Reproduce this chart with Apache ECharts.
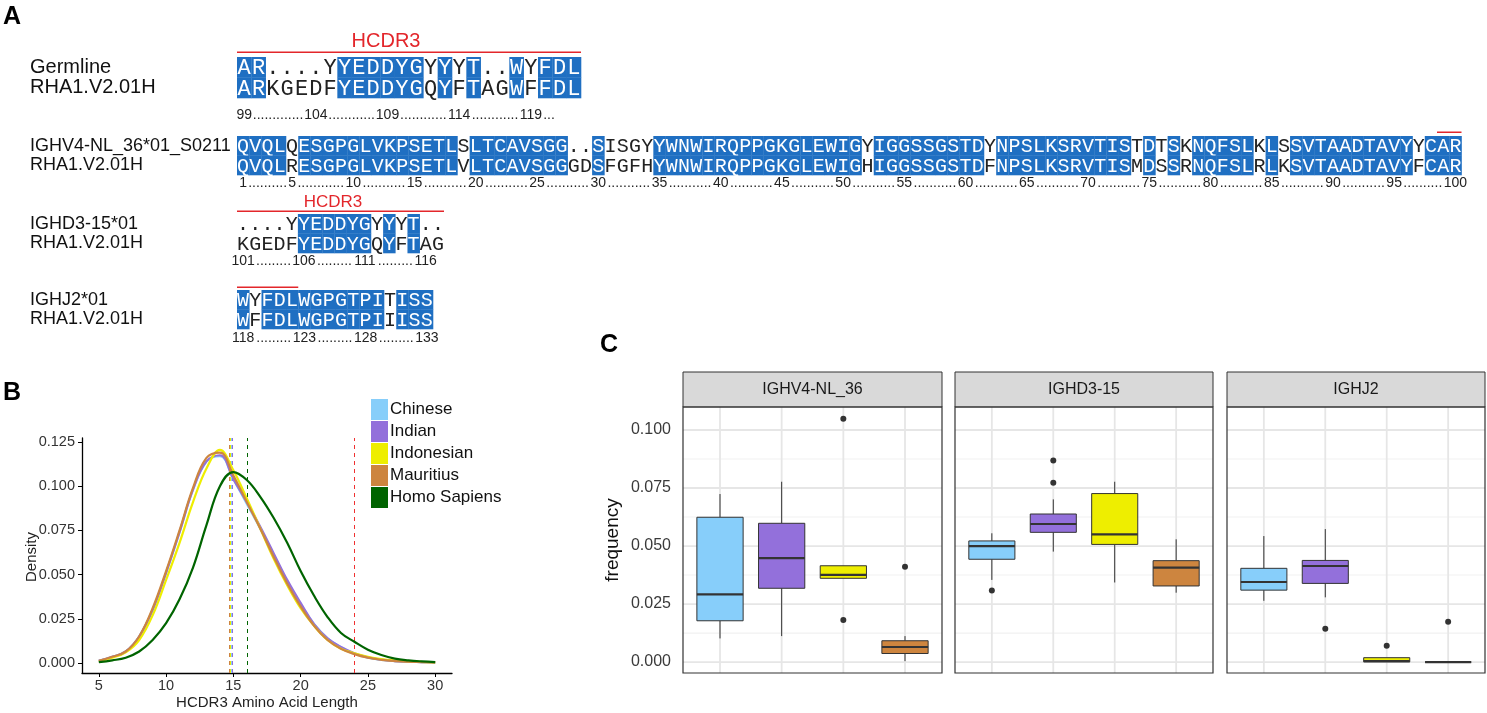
<!DOCTYPE html>
<html><head><meta charset="utf-8">
<script src="https://cdn.jsdelivr.net/npm/echarts@6/dist/echarts.min.js"></script>
<style>html,body{margin:0;padding:0;background:#fff}#c{width:1487px;height:713px}</style>
</head><body><div id="c"></div>
<script>
// ================= DATA =================
// Panel A : alignments
const rhaName = 'RHA1.V2.01H';
const cdr3Names = ['Germline', rhaName];
const vNames = ['IGHV4-NL_36*01_S0211', rhaName];
const dNames = ['IGHD3-15*01', rhaName];
const jNames = ['IGHJ2*01', rhaName];
const cdrLabel = 'HCDR3';

const cdr3Germline = 'AR....YYEDDYGYYYT..WYFDL';
const cdr3Rha      = 'ARKGEDFYEDDYGQYFTAGWFFDL';
const cdr3Numbers  = [99, 104, 109, 114, 119];
const cdr3Start    = 99;

const vGermline = 'QVQLQESGPGLVKPSETLSLTCAVSGG..SISGYYWNWIRQPPGKGLEWIGYIGGSSGSTDYNPSLKSRVTISTDTSKNQFSLKLSSVTAADTAVYYCAR';
const vRha      = 'QVQLRESGPGLVKPSETLVLTCAVSGGGDSFGFHYWNWIRQPPGKGLEWIGHIGGSSGSTDFNPSLKSRVTISMDSSRNQFSLRLKSVTAADTAVYFCAR';
const vNumbers  = [1, 5, 10, 15, 20, 25, 30, 35, 40, 45, 50, 55, 60, 65, 70, 75, 80, 85, 90, 95, 100];
const vStart    = 1;

const dGermline = '....YYEDDYGYYYT..';
const dRha      = 'KGEDFYEDDYGQYFTAG';
const dNumbers  = [101, 106, 111, 116];
const dStart    = 101;

const jGermline = 'WYFDLWGPGTPITISS';
const jRha      = 'WFFDLWGPGTPIIISS';
const jNumbers  = [118, 123, 128, 133];
const jStart    = 118;

// HCDR3 red bars (residue index ranges)
const cdr3Bar = [0, 24];
const vBar = [98, 100];
const dBar = [0, 17];
const jBar = [0, 5];

// Panel B : HCDR3 length densities
const populations = ['Chinese', 'Indian', 'Indonesian', 'Mauritius', 'Homo Sapiens'];
const lengthX = [5, 6, 7, 8, 9, 10, 11, 12, 13, 14, 15, 16, 17, 18, 19, 20, 21, 22, 23, 24, 25, 26, 27, 28, 29, 30];
const densChinese    = [0.0012, 0.0035, 0.0065, 0.015, 0.030, 0.051, 0.074, 0.098, 0.114, 0.117, 0.104, 0.090, 0.076, 0.061, 0.046, 0.033, 0.022, 0.014, 0.009, 0.0052, 0.0030, 0.0018, 0.0011, 0.0007, 0.0005, 0.0003];
const densIndian     = [0.0012, 0.0035, 0.0065, 0.015, 0.030, 0.051, 0.074, 0.098, 0.114, 0.1175, 0.104, 0.091, 0.077, 0.062, 0.047, 0.034, 0.022, 0.014, 0.009, 0.0055, 0.0032, 0.0019, 0.0011, 0.0007, 0.0005, 0.0003];
const densIndonesian = [0.0010, 0.0030, 0.0060, 0.013, 0.027, 0.047, 0.068, 0.091, 0.110, 0.1205, 0.109, 0.093, 0.076, 0.059, 0.044, 0.031, 0.021, 0.013, 0.008, 0.0055, 0.0035, 0.0022, 0.0014, 0.0009, 0.0006, 0.0004];
const densMauritius  = [0.0012, 0.0035, 0.0065, 0.015, 0.031, 0.052, 0.075, 0.099, 0.116, 0.119, 0.106, 0.091, 0.076, 0.060, 0.045, 0.032, 0.021, 0.013, 0.008, 0.0050, 0.0030, 0.0018, 0.0011, 0.0007, 0.0005, 0.0003];
const densHomo       = [0.0005, 0.0015, 0.0030, 0.0065, 0.013, 0.0225, 0.036, 0.054, 0.078, 0.100, 0.108, 0.1035, 0.094, 0.082, 0.068, 0.052, 0.038, 0.026, 0.017, 0.012, 0.0075, 0.0045, 0.0025, 0.0015, 0.0009, 0.0005];
const meanLength = [14.85, 14.9, 14.8, 14.72, 16.05];
const rhaCdr3Length = 24;
const lenTicks = [5, 10, 15, 20, 25, 30];
const densTicks = [0, 0.025, 0.05, 0.075, 0.1, 0.125];

// Panel C : gene usage frequency boxplots  [low, q1, median, q3, high]
const genes = ['IGHV4-NL_36', 'IGHD3-15', 'IGHJ2'];
const cohorts = ['Chinese', 'Indian', 'Indonesian', 'Mauritius'];
const boxIGHV = [[0.0102, 0.0178, 0.0292, 0.0624, 0.0724], [0.0112, 0.0318, 0.0448, 0.0598, 0.0777], [0.0361, 0.0361, 0.0376, 0.0415, 0.0415], [0.0004, 0.0037, 0.0065, 0.0092, 0.0112]];
const boxIGHD = [[0.0354, 0.0443, 0.0500, 0.0522, 0.0555], [0.0476, 0.0559, 0.0595, 0.0638, 0.0701], [0.0343, 0.0507, 0.0550, 0.0726, 0.0777], [0.0299, 0.0328, 0.0407, 0.0437, 0.0529]];
const boxIGHJ = [[0.0264, 0.0310, 0.0345, 0.0404, 0.0543], [0.0279, 0.0339, 0.0414, 0.0438, 0.0573], [0.0, 0.0001, 0.0004, 0.0019, 0.0019], [0.0, 0.0, 0.0, 0.0, 0.0]];
const outIGHV = [[3, 0.1048], [3, 0.0181], [4, 0.0411]];
const outIGHD = [[1, 0.0308], [2, 0.0868], [2, 0.0773]];
const outIGHJ = [[2, 0.0144], [3, 0.0070], [4, 0.0174]];
const freqTicks = [0, 0.025, 0.05, 0.075, 0.1];
const freqMinor = [0.0125, 0.0375, 0.0625, 0.0875];

// ================= STYLE =================
const SANS = '"Liberation Sans", Arial, sans-serif';
const MONO = '"Liberation Mono", "DejaVu Sans Mono", monospace';
const BLUE = '#1f6fc2';
const RED = '#e3262b';
const popColors = ['#87CEFA', '#9370DB', '#EEEE00', '#CD853F', '#006400'];

// grid layout: 0 cdr3, 1 V, 2 D, 3 J, 4 density, 5-7 facets
const grids = [
  {left: 237, top: 57, width: 344, height: 41},
  {left: 237, top: 136, width: 1224.5, height: 39},
  {left: 237, top: 214, width: 207, height: 39},
  {left: 237, top: 290, width: 196, height: 39},
  {left: 82, top: 438, width: 370, height: 235},
  {left: 683, top: 407, width: 259, height: 266},
  {left: 955, top: 407, width: 258, height: 266},
  {left: 1227, top: 407, width: 258, height: 266}
];

const blocks = [
  {g: 0, a: cdr3Germline, b: cdr3Rha, nums: cdr3Numbers, start: cdr3Start, trailing: true, font: '22px ' + MONO, numOff: 17, bar: cdr3Bar, barOff: 4, names: cdr3Names, nameFont: 20},
  {g: 1, a: vGermline, b: vRha, nums: vNumbers, start: vStart, trailing: false, font: '20px ' + MONO, numOff: 8, bar: vBar, barOff: 3, names: vNames, nameFont: 18},
  {g: 2, a: dGermline, b: dRha, nums: dNumbers, start: dStart, trailing: false, font: '20px ' + MONO, numOff: 8, bar: dBar, barOff: 2, names: dNames, nameFont: 18},
  {g: 3, a: jGermline, b: jRha, nums: jNumbers, start: jStart, trailing: false, font: '20px ' + MONO, numOff: 9, bar: jBar, barOff: 2, names: jNames, nameFont: 18}
];

const xAxes = [], yAxes = [], series = [];
blocks.forEach(bk => {
  xAxes.push({gridIndex: bk.g, type: 'value', min: 0, max: bk.a.length, show: false});
  yAxes.push({gridIndex: bk.g, type: 'value', min: 0, max: 2, inverse: true, show: false});
});
// density axes
xAxes.push({gridIndex: 4, type: 'value', min: 3.75, max: 31.25,
  axisLine: {onZero: false, lineStyle: {color: '#000', width: 1.3}},
  axisTick: {customValues: lenTicks, length: 4, lineStyle: {color: '#000', width: 1}},
  axisLabel: {customValues: lenTicks, margin: 5, fontSize: 14.5, color: '#333', fontFamily: SANS},
  splitLine: {show: false}});
yAxes.push({gridIndex: 4, type: 'value', min: -0.00566, max: 0.12726,
  axisLine: {show: true, onZero: false, lineStyle: {color: '#000', width: 1.3}},
  axisTick: {show: true, customValues: densTicks, length: 4, lineStyle: {color: '#000', width: 1}},
  axisLabel: {customValues: densTicks, margin: 7, fontSize: 14.5, color: '#333', fontFamily: SANS, formatter: v => v.toFixed(3)},
  splitLine: {show: false}});
// facet axes
for (let f = 0; f < 3; f++) {
  xAxes.push({gridIndex: 5 + f, type: 'value', min: 0.4, max: 4.6, show: false});
  yAxes.push({gridIndex: 5 + f, type: 'value', min: -0.0047, max: 0.1099,
    axisLine: {show: false}, axisTick: {show: false}, splitLine: {show: false},
    axisLabel: {show: f === 0, customValues: freqTicks, margin: 12, fontSize: 16, color: '#3a3a3a', fontFamily: SANS, formatter: v => v.toFixed(3)}});
}

// ---- Panel A series ----
blocks.forEach(bk => {
  const data = [];
  for (let r = 0; r < 2; r++) for (let i = 0; i < bk.a.length; i++) data.push([i, r]);
  series.push({
    type: 'custom', xAxisIndex: bk.g, yAxisIndex: bk.g, data, silent: true, z: 3,
    encode: {x: 0, y: 1},
    renderItem(p, api) {
      const i = api.value(0), r = api.value(1);
      const ch = (r === 0 ? bk.a : bk.b)[i];
      const blue = bk.a[i] === bk.b[i] && bk.a[i] !== '.';
      const p0 = api.coord([i, r]), p1 = api.coord([i + 1, r + 1]);
      const kids = [];
      if (blue) kids.push({type: 'rect', shape: {x: p0[0], y: p0[1], width: p1[0] - p0[0] + 0.3, height: p1[1] - p0[1] + 0.3}, style: {fill: BLUE}});
      kids.push({type: 'text', x: (p0[0] + p1[0]) / 2, y: (p0[1] + p1[1]) / 2 + 1,
        style: {text: ch, font: bk.font, fill: blue ? '#ffffff' : '#222', align: 'center', verticalAlign: 'middle'}});
      return {type: 'group', children: kids};
    }
  });
  // number row
  series.push({
    type: 'custom', xAxisIndex: bk.g, yAxisIndex: bk.g, data: [[0, 0]], silent: true, z: 3,
    renderItem(p, api) {
      const fs = 14, dw = fs * 0.278, gw = fs * 0.556;
      const yy = api.coord([0, 2])[1] + bk.numOff;
      const font = fs + 'px ' + SANS;
      const items = bk.nums.map(v => {
        const cx = api.coord([v - bk.start + 0.5, 2])[0];
        const w = String(v).length * gw;
        return {v, cx, l: cx - w / 2, r: cx + w / 2};
      });
      const kids = [];
      items.forEach(it => kids.push({type: 'text', x: it.cx, y: yy, style: {text: String(it.v), font, fill: '#222', align: 'center', verticalAlign: 'middle'}}));
      const dots = (a, b) => {
        const cnt = Math.floor((b - a) / dw);
        if (cnt > 0) kids.push({type: 'text', x: (a + b) / 2, y: yy, style: {text: '.'.repeat(cnt), font, fill: '#222', align: 'center', verticalAlign: 'middle'}});
      };
      for (let k = 0; k < items.length - 1; k++) dots(items[k].r + 0.5, items[k + 1].l - 0.5);
      if (bk.trailing) dots(items[items.length - 1].r + 0.5, api.coord([bk.a.length, 2])[0] - 26);
      return {type: 'group', children: kids};
    }
  });
  // red HCDR3 bar
  series.push({
    type: 'custom', xAxisIndex: bk.g, yAxisIndex: bk.g, data: [bk.bar], silent: true, z: 3,
    renderItem(p, api) {
      const a = api.coord([api.value(0), 0]), b = api.coord([api.value(1), 0]);
      return {type: 'rect', shape: {x: a[0], y: a[1] - bk.barOff - 1.5, width: b[0] - a[0], height: 1.5}, style: {fill: RED}};
    }
  });
});

// ---- Panel B series ----
const densSets = [densChinese, densIndian, densIndonesian, densMauritius, densHomo];
populations.forEach((name, k) => {
  const ml = [{xAxis: meanLength[k], lineStyle: {color: popColors[k]}}];
  if (k === populations.length - 1) ml.push({xAxis: rhaCdr3Length, lineStyle: {color: '#f03030'}});
  series.push({
    name, type: 'line', xAxisIndex: 4, yAxisIndex: 4, smooth: 0.4, symbol: 'none', z: 3 + k,
    data: lengthX.map((x, i) => [x, densSets[k][i]]),
    lineStyle: {color: popColors[k], width: 2.2}, itemStyle: {color: popColors[k]},
    markLine: {silent: true, symbol: ['none', 'none'], label: {show: false},
      lineStyle: {type: [4, 4], width: 1}, data: ml}
  });
});

// ---- Panel C series ----
const boxSets = [boxIGHV, boxIGHD, boxIGHJ];
const outSets = [outIGHV, outIGHD, outIGHJ];
for (let f = 0; f < 3; f++) {
  const g = 5 + f;
  const gl = [];
  freqTicks.forEach(v => gl.push([0, v]));
  freqMinor.forEach(v => gl.push([1, v]));
  cohorts.forEach((c, i) => gl.push([2, i + 1]));
  series.push({
    type: 'custom', xAxisIndex: g, yAxisIndex: g, data: gl, silent: true, z: 1,
    renderItem(p, api) {
      const kind = api.value(0), v = api.value(1);
      let a, b;
      if (kind === 2) { a = api.coord([v, -0.0047]); b = api.coord([v, 0.1099]); }
      else { a = api.coord([0.4, v]); b = api.coord([4.6, v]); }
      return {type: 'line', shape: {x1: a[0], y1: a[1], x2: b[0], y2: b[1]},
        style: {stroke: kind === 1 ? '#f1f1f1' : '#e6e6e6', lineWidth: kind === 1 ? 1.1 : 1.8}};
    }
  });
  series.push({
    type: 'custom', xAxisIndex: g, yAxisIndex: g, silent: true, z: 3,
    data: boxSets[f].map((s, i) => [i + 1].concat(s)),
    renderItem(p, api) {
      const x = api.value(0), lo = api.value(1), q1 = api.value(2), med = api.value(3), q3 = api.value(4), hi = api.value(5);
      const hw = 0.375;
      const tl = api.coord([x - hw, q3]), br = api.coord([x + hw, q1]);
      const cHi = api.coord([x, hi]), cQ3 = api.coord([x, q3]), cQ1 = api.coord([x, q1]), cLo = api.coord([x, lo]);
      const m = api.coord([x, med]);
      const col = popColors[x - 1];
      return {type: 'group', children: [
        {type: 'line', shape: {x1: cHi[0], y1: cHi[1], x2: cQ3[0], y2: cQ3[1]}, style: {stroke: '#333', lineWidth: 1}},
        {type: 'line', shape: {x1: cQ1[0], y1: cQ1[1], x2: cLo[0], y2: cLo[1]}, style: {stroke: '#333', lineWidth: 1}},
        {type: 'rect', shape: {x: tl[0], y: tl[1], width: br[0] - tl[0], height: br[1] - tl[1]}, style: {fill: col, stroke: '#333', lineWidth: 1}},
        {type: 'line', shape: {x1: tl[0], y1: m[1], x2: br[0], y2: m[1]}, style: {stroke: '#333', lineWidth: 2.2}}
      ]};
    }
  });
  series.push({
    type: 'scatter', xAxisIndex: g, yAxisIndex: g, silent: true, z: 4,
    data: outSets[f], symbolSize: 6, itemStyle: {color: '#333', opacity: 1}
  });
}

// ---- graphic: labels, strips, borders ----
const G = [];
const txt = (x, y, text, font, fill, align, rot) => G.push({type: 'text', x, y, rotation: rot || 0, z: 50,
  style: {text, font, fill: fill || '#000', align: align || 'left', verticalAlign: 'middle'}});
txt(3, 17, 'A', 'bold 25px ' + SANS);
txt(3, 393, 'B', 'bold 25px ' + SANS);
txt(600, 345, 'C', 'bold 25px ' + SANS);
blocks.forEach(bk => {
  const gr = grids[bk.g];
  txt(30, gr.top + gr.height / 4, bk.names[0], bk.nameFont + 'px ' + SANS, '#111');
  txt(30, gr.top + gr.height * 3 / 4, bk.names[1], bk.nameFont + 'px ' + SANS, '#111');
});
txt(386, 41, cdrLabel, '20px ' + SANS, RED, 'center');
txt(333, 202, cdrLabel, '17px ' + SANS, RED, 'center');
// panel B titles
txt(32, 557, 'Density', '15px ' + SANS, '#222', 'center', Math.PI / 2);
txt(267, 703, 'HCDR3 Amino Acid Length', '15px ' + SANS, '#222', 'center');
// panel C titles, strips, borders
txt(613, 540, 'frequency', '19px ' + SANS, '#111', 'center', Math.PI / 2);
genes.forEach((gname, f) => {
  const gr = grids[5 + f];
  G.push({type: 'rect', z: 40, shape: {x: gr.left, y: 372, width: gr.width, height: 35}, style: {fill: '#d9d9d9', stroke: '#333', lineWidth: 1}});
  txt(gr.left + gr.width / 2, 389.5, gname, '16px ' + SANS, '#1a1a1a', 'center');
  G.push({type: 'rect', z: 40, shape: {x: gr.left, y: gr.top, width: gr.width, height: gr.height}, style: {fill: 'none', stroke: '#333', lineWidth: 1.2}});
});

const chart = echarts.init(document.getElementById('c'));
chart.setOption({
  animation: false,
  backgroundColor: '#fff',
  grid: grids.map(g => Object.assign({containLabel: false}, g)),
  xAxis: xAxes,
  yAxis: yAxes,
  legend: {data: populations, orient: 'vertical', left: 366, top: 394, icon: 'rect',
    itemWidth: 17, itemHeight: 21, itemGap: 1, selectedMode: false,
    textStyle: {fontSize: 17, color: '#111', fontFamily: SANS, padding: [0, 0, 0, -3]}},
  series,
  graphic: {elements: G}
});
</script></body></html>
